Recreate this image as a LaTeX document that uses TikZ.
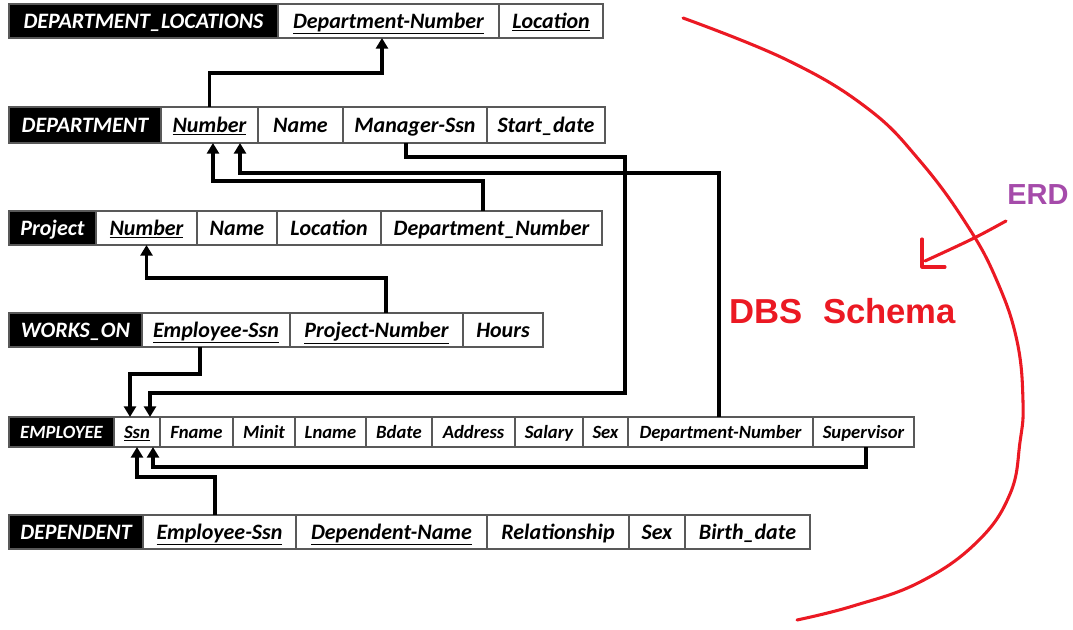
\documentclass[tikz,border=0pt]{standalone}
\usepackage{fontspec}
\setmainfont{Carlito}
\newfontfamily\arialfont{Liberation Sans}
\usepackage{tikz}
\usetikzlibrary{arrows.meta, positioning}
\definecolor{penred}{RGB}{235,25,35}
\definecolor{erdpurple}{RGB}{165,75,170}
\tikzset{
    tbl/.style={draw=gray!70!black, line width=0.9pt, fill=white, inner sep=0pt, outer sep=0pt,
        minimum height=25.5pt, text height=13.5pt, text depth=2.5pt,
        font=\bfseries\itshape\fontsize{16.5}{18}\selectfont}, % 表格单元
    tblhead/.style={tbl, fill=black, text=white}, % 表名
    tblsmall/.style={font=\bfseries\itshape\fontsize{14}{16}\selectfont, minimum height=22.5pt,
        text height=11.5pt, text depth=2.5pt},
    fk/.style={line width=2.5pt, -{Triangle[length=8pt, width=9pt]}}, % 外键连线
    pen/.style={penred, line width=2.3pt, line cap=round, line join=round}
}

\begin{document}
\begin{tikzpicture}[x=0.75pt, y=-0.75pt]
    \useasboundingbox (0,0) rectangle (1073,630);

    % DEPARTMENT_LOCATIONS
    \node[tblhead, minimum width=201.75pt, anchor=west] (dlHead) at (9,21) {DEPARTMENT\_LOCATIONS};
    \node[tbl, minimum width=165.75pt, right=0pt of dlHead] (dlDeptNum) {\underline{Department-Number}};
    \node[tbl, minimum width=78pt, right=0pt of dlDeptNum] (dlLoc) {\underline{Location}};

    % DEPARTMENT
    \node[tblhead, minimum width=114pt, minimum height=27pt, anchor=west] (dHead) at (9,125) {DEPARTMENT};
    \node[tbl, minimum width=72.75pt, minimum height=27pt, right=0pt of dHead] (dNumber) {\underline{Number}};
    \node[tbl, minimum width=63.75pt, minimum height=27pt, right=0pt of dNumber] (dName) {Name};
    \node[tbl, minimum width=108pt, minimum height=27pt, right=0pt of dName] (dMgr) {Manager-Ssn};
    \node[tbl, minimum width=88.5pt, minimum height=27pt, right=0pt of dMgr] (dStart) {Start\_date};

    % Project
    \node[tblhead, minimum width=65.25pt, anchor=west] (pHead) at (9,228) {Project};
    \node[tbl, minimum width=75.75pt, right=0pt of pHead] (pNumber) {\underline{Number}};
    \node[tbl, minimum width=60pt, right=0pt of pNumber] (pName) {Name};
    \node[tbl, minimum width=78pt, right=0pt of pName] (pLoc) {Location};
    \node[tbl, minimum width=165.75pt, right=0pt of pLoc] (pDeptNum) {Department\_Number};

    % WORKS_ON
    \node[tblhead, minimum width=99.75pt, anchor=west] (wHead) at (9,330) {WORKS\_ON};
    \node[tbl, minimum width=111pt, right=0pt of wHead] (wEmpSsn) {\underline{Employee-Ssn}};
    \node[tbl, minimum width=129.75pt, right=0pt of wEmpSsn] (wPrjNum) {\underline{Project-Number}};
    \node[tbl, minimum width=60pt, right=0pt of wPrjNum] (wHours) {Hours};

    % EMPLOYEE
    \node[tblhead, tblsmall, minimum width=78.75pt, anchor=west] (eHead) at (9,432) {EMPLOYEE};
    \node[tbl, tblsmall, minimum width=34.5pt, right=0pt of eHead] (eSsn) {\underline{Ssn}};
    \node[tbl, tblsmall, minimum width=54.75pt, right=0pt of eSsn] (eFname) {Fname};
    \node[tbl, tblsmall, minimum width=46.5pt, right=0pt of eFname] (eMinit) {Minit};
    \node[tbl, tblsmall, minimum width=53.25pt, right=0pt of eMinit] (eLname) {Lname};
    \node[tbl, tblsmall, minimum width=49.5pt, right=0pt of eLname] (eBdate) {Bdate};
    \node[tbl, tblsmall, minimum width=62.25pt, right=0pt of eBdate] (eAddr) {Address};
    \node[tbl, tblsmall, minimum width=51pt, right=0pt of eAddr] (eSalary) {Salary};
    \node[tbl, tblsmall, minimum width=33.75pt, right=0pt of eSalary] (eSex) {Sex};
    \node[tbl, tblsmall, minimum width=138.75pt, right=0pt of eSex] (eDeptNum) {Department-Number};
    \node[tbl, tblsmall, minimum width=75.75pt, right=0pt of eDeptNum] (eSuper) {Supervisor};

    % DEPENDENT
    \node[tblhead, minimum width=100.5pt, anchor=west] (depHead) at (9,532) {DEPENDENT};
    \node[tbl, minimum width=114.75pt, right=0pt of depHead] (depEmpSsn) {\underline{Employee-Ssn}};
    \node[tbl, minimum width=143.25pt, right=0pt of depEmpSsn] (depName) {\underline{Dependent-Name}};
    \node[tbl, minimum width=106.5pt, right=0pt of depName] (depRel) {Relationship};
    \node[tbl, minimum width=42pt, right=0pt of depRel] (depSex) {Sex};
    \node[tbl, minimum width=93.75pt, right=0pt of depSex] (depBirth) {Birth\_date};

    % foreign keys
    \draw[fk] (dNumber.north) -- ++(0,-34) -| ([xshift=-4.9pt]dlDeptNum.south);
    \draw[fk] ([xshift=-6.4pt]pDeptNum.north) -- ++(0,-30) -| ([xshift=2.6pt]dNumber.south);
    \draw[fk] ([xshift=-1.1pt]eDeptNum.north) -- ++(0,-244) -| ([xshift=22.9pt]dNumber.south);
    \draw[fk] ([xshift=-6.75pt]dMgr.south) -- ++(0,14) -| (625,393) -| ([xshift=9.75pt]eSsn.north);
    \draw[fk] ([xshift=7.1pt]wPrjNum.north) -- ++(0,-35) -| (pNumber.south);
    \draw[fk] ([xshift=-12pt]wEmpSsn.south) -- ++(0,27) -| ([xshift=-5.25pt]eSsn.north);
    \draw[fk] ([xshift=1.9pt]eSuper.south) -- ++(0,20) -| ([xshift=12pt]eSsn.south);
    \draw[fk] ([xshift=-3.4pt]depEmpSsn.north) -- ++(0,-38) -| (eSsn.south);

    % red notes
    \draw[pen] plot[smooth, tension=0.7] coordinates {(683,18) (787,60) (867,108) (920,161) (967,225)
        (997,281) (1017,341) (1023,402) (1020,442) (1010,494) (977,542) (920,582) (853,606) (797,620)};
    \node[font=\arialfont\bfseries\fontsize{21.75}{24}\selectfont, text=erdpurple, inner sep=0pt] (erd) at (1038,195) {ERD};
    \draw[pen] (1006,221) .. controls (975,238) .. (925,261);
    \draw[pen] (922,239) -- (922,267) -- (945,267);
    \node[font=\arialfont\bfseries\fontsize{26}{28}\selectfont, text=penred, inner sep=0pt] (dbs) at (843,311) {DBS\hspace{0.3em} Schema};
\end{tikzpicture}
\end{document}
